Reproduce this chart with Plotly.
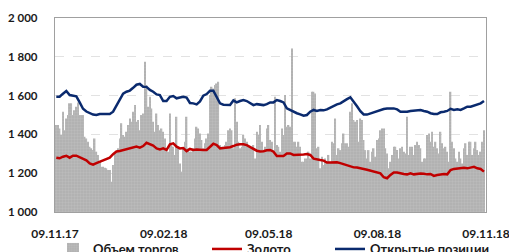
import numpy as np
import plotly.graph_objects as go

# Tick labels (dates) and their day offsets from 09.11.17
tick_labels = ["09.11.17", "09.02.18", "09.05.18", "09.08.18", "09.11.18"]
tick_days = [0, 92, 181, 273, 365]
y_ticks = [1000, 1200, 1400, 1600, 1800, 2000]
y_tick_labels = ["1 000", "1 200", "1 400", "1 600", "1 800", "2 000"]

# Trading volume (chart units)
volume = [
    1448, 1448, 1431, 1397, 1517, 1422, 1482, 1500, 1560, 1560, 1500, 1525, 1543, 1565, 1500, 1500,
    1500, 1388, 1379, 1362, 1336, 1328, 1319, 1379, 1311, 1294, 1259, 1233, 1233, 1228, 1225, 1216,
    1216, 1156, 1242, 1302, 1311, 1328, 1379, 1457, 1397, 1388, 1414, 1448, 1482, 1465, 1517, 1551,
    1465, 1474, 1422, 1500, 1508, 1775, 1654, 1543, 1594, 1534, 1465, 1414, 1508, 1448, 1422,
    1431, 1414, 1379, 1328, 1311, 1508, 1345, 1336, 1294, 1491, 1336, 1250, 1208, 1328, 1362, 1491,
    1328, 1311, 1311, 1328, 1379, 1440, 1431, 1405, 1371, 1328, 1354, 1379, 1405, 1603, 1646, 1637,
    1654, 1663, 1671, 1345, 1336, 1336, 1345, 1362, 1422, 1431, 1422, 1328, 1586, 1465, 1362, 1328,
    1336, 1397, 1379, 1362, 1345, 1336, 1328, 1345, 1276, 1414, 1397, 1448, 1362, 1311, 1336, 1431,
    1448, 1371, 1362, 1319, 1594, 1345, 1336, 1311, 1431, 1397, 1603, 1440, 1448, 1440, 1843, 1362,
    1362, 1336, 1362, 1336, 1259, 1259, 1276, 1276, 1311, 1276, 1620, 1620, 1611, 1328, 1336, 1225,
    1285, 1242, 1276, 1259, 1294, 1259, 1362, 1354, 1482, 1294, 1328, 1319, 1354, 1405, 1354, 1354,
    1336, 1517, 1560, 1474, 1465, 1474, 1362, 1482, 1474, 1371, 1319, 1276, 1319, 1259, 1311, 1328,
    1285, 1371, 1379, 1422, 1431, 1431, 1328, 1302, 1225, 1259, 1294, 1336, 1336, 1319, 1276, 1328,
    1336, 1311, 1302, 1491, 1294, 1336, 1336, 1294, 1345, 1362, 1345, 1328, 1259, 1276, 1276, 1397,
    1405, 1362, 1414, 1336, 1362, 1328, 1302, 1414, 1354, 1328, 1336, 1311, 1259, 1620, 1362, 1328,
    1276, 1259, 1311, 1276, 1250, 1328, 1354, 1294, 1362, 1362, 1294, 1328, 1362, 1319, 1294, 1311,
    1362, 1422,
]

# Gold price
gold = [
    1280, 1277, 1285, 1290, 1280, 1290, 1290, 1283, 1275, 1266, 1250, 1244, 1252, 1260, 1266, 1273,
    1280, 1298, 1312, 1314, 1318, 1323, 1328, 1331, 1337, 1332, 1340, 1357, 1349, 1342, 1328, 1323,
    1328, 1320, 1349, 1354, 1337, 1328, 1330, 1314, 1325, 1320, 1322, 1320, 1320, 1320, 1335, 1352,
    1345, 1328, 1330, 1332, 1334, 1340, 1347, 1349, 1349, 1345, 1335, 1326, 1316, 1312, 1313, 1318,
    1320, 1311, 1289, 1289, 1289, 1302, 1302, 1294, 1294, 1297, 1297, 1299, 1294, 1275, 1270, 1268,
    1265, 1255, 1255, 1256, 1256, 1252, 1246, 1240, 1232, 1230, 1229, 1227, 1222, 1218, 1214, 1209,
    1206, 1199, 1179, 1174, 1191, 1204, 1204, 1199, 1196, 1194, 1199, 1194, 1197, 1199, 1197, 1194,
    1196, 1186, 1191, 1194, 1196, 1194, 1216, 1222, 1225, 1225, 1228, 1225, 1230, 1233, 1225, 1222,
    1208,
]

# Open interest
open_interest = [
    1594, 1594, 1610, 1624, 1603, 1600, 1596, 1565, 1532, 1518, 1508, 1502, 1500, 1505, 1505, 1505,
    1505, 1517, 1548, 1575, 1610, 1620, 1626, 1640, 1656, 1660, 1646, 1645, 1629, 1620, 1606, 1603,
    1572, 1572, 1594, 1598, 1586, 1590, 1594, 1590, 1562, 1560, 1555, 1570, 1600, 1608, 1625, 1625,
    1590, 1560, 1553, 1552, 1552, 1575, 1565, 1572, 1577, 1572, 1560, 1551, 1556, 1553, 1551, 1556,
    1565, 1565, 1577, 1572, 1565, 1534, 1526, 1514, 1509, 1503, 1496, 1500, 1517, 1526, 1521, 1526,
    1524, 1529, 1538, 1548, 1555, 1560, 1572, 1582, 1591, 1570, 1545, 1520, 1503, 1502, 1508, 1512,
    1521, 1526, 1531, 1534, 1534, 1534, 1529, 1517, 1517, 1517, 1521, 1522, 1522, 1526, 1521, 1517,
    1509, 1505, 1505, 1514, 1517, 1521, 1532, 1526, 1529, 1526, 1534, 1543, 1543, 1548, 1551, 1560,
    1572,
]

x_start, x_end = 1.1, 363.3
bar_x = np.linspace(x_start, x_end, len(volume))
line_x = np.linspace(x_start, x_end, len(gold))
oi_x = np.linspace(x_start, x_end, len(open_interest))

TICKFONT = dict(family="Lato", size=12, color="#1a1a1a", weight="bold")
LEGFONT = dict(family="Lato", size=13, color="#1a1a1a", weight="bold")

fig = go.Figure()
fig.add_trace(go.Bar(
    x=bar_x, y=volume, base=0, name="Объем торгов", legend="legend",
    marker=dict(color="#b2b2b2", line=dict(width=0),
                pattern=dict(shape="+", fgcolor="#d0d0d0", size=3, solidity=0.25)),
))
fig.add_trace(go.Scatter(
    x=line_x, y=gold, mode="lines", name="Золото", legend="legend2",
    line=dict(color="#c00000", width=2.5),
))
fig.add_trace(go.Scatter(
    x=oi_x, y=open_interest, mode="lines", name="Открытые позиции", legend="legend3",
    line=dict(color="#0a2a6e", width=2.5),
))

def leg(xpix):
    return dict(orientation="h", xref="container", yref="container",
                x=xpix / 509, xanchor="left", y=(252 - 249) / 252, yanchor="middle",
                font=LEGFONT, bgcolor="rgba(0,0,0,0)", borderwidth=0)

fig.update_layout(
    width=509, height=252,
    margin=dict(l=55, r=23, t=18, b=40, autoexpand=False),
    paper_bgcolor="white", plot_bgcolor="white",
    bargap=0.12,
    showlegend=True,
    legend=leg(53), legend2=leg(207), legend3=leg(330),
    font=TICKFONT,
)
fig.update_xaxes(
    range=[0, 365], tickvals=tick_days, ticktext=tick_labels,
    showgrid=False, zeroline=False, showline=True, linecolor="#a0a0a0", linewidth=1.3,
    mirror=True, ticks="", ticklabelstandoff=10, ticklabeloverflow="allow",
    tickfont=TICKFONT,
)
fig.update_yaxes(
    range=[1000, 2000], tickvals=y_ticks, ticktext=y_tick_labels,
    showgrid=True, gridcolor="#e2e2e2", griddash="dash", gridwidth=1,
    zeroline=False, showline=True, linecolor="#a0a0a0", linewidth=1.3,
    mirror=True, ticks="", ticklabelstandoff=14,
    tickfont=dict(family="Lato", size=11.5, color="#1a1a1a", weight="bold"),
)

fig.write_html(
    "out.html",
    config={"displayModeBar": False},
    post_script="document.body.style.margin='0px';document.body.style.overflow='hidden';",
)
